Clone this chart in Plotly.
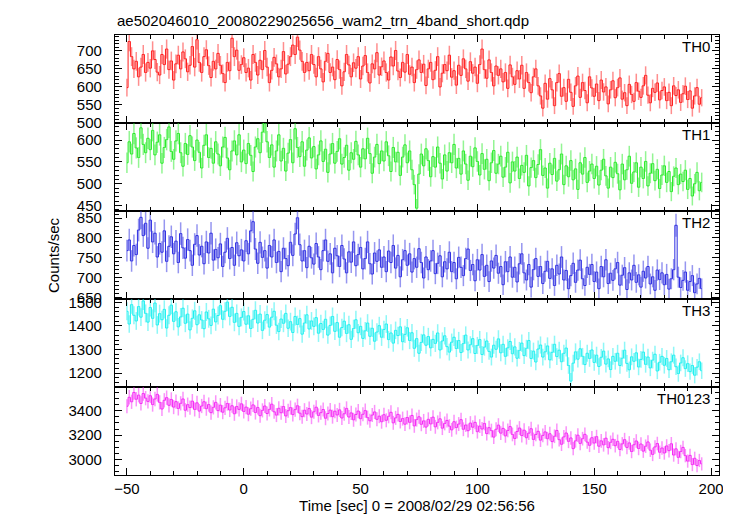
import numpy as np
import plotly.graph_objects as go

# time bins (s), 1-s bins from -50 to 196
t_first, t_last = -50, 196

th0 = [598, 726, 684, 650, 671, 628, 655, 690, 640, 668,
       652, 700, 676, 641, 633, 690, 662, 705, 648, 672,
       619, 664, 688, 650, 697, 678, 642, 660, 712, 655,
       731, 668, 640, 684, 703, 659, 626, 671, 650, 693,
       660, 637, 612, 668, 645, 735, 684, 702, 646, 662,
       681, 640, 652, 619, 690, 668, 633, 674, 648, 701,
       655, 612, 646, 682, 664, 628, 650, 698, 636, 663,
       684, 716, 690, 738, 702, 671, 640, 668, 645, 690,
       662, 628, 684, 650, 614, 671, 693, 640, 655, 620,
       676, 648, 603, 642, 690, 661, 628, 667, 652, 684,
       622, 658, 687, 640, 611, 664, 650, 695, 633, 656,
       672, 640, 619, 683, 658, 701, 644, 626, 668, 641,
       690, 635, 655, 612, 648, 675, 640, 663, 604, 650,
       668, 620, 646, 684, 600, 638, 662, 645, 688, 627,
       645, 605, 660, 632, 678, 650, 616, 670, 638, 655,
       610, 662, 705, 648, 624, 675, 640, 603, 658, 632,
       650, 614, 640, 596, 661, 628, 607, 645, 622, 660,
       596, 640, 612, 584, 628, 650, 603, 575, 541, 610,
       566, 623, 592, 548, 612, 637, 574, 598, 560, 621,
       585, 546, 603, 630, 571, 612, 590, 556, 628, 597,
       574, 608, 562, 619, 586, 600, 553, 592, 617, 570,
       598, 625, 566, 584, 548, 607, 579, 560, 612, 588,
       571, 603, 632, 577, 556, 596, 585, 611, 564, 590,
       600, 562, 585, 548, 603, 576, 592, 557, 581, 602,
       565, 589, 541, 575, 598, 552, 570]

th1 = [548, 596, 568, 615, 582, 560, 628, 590, 571, 604,
       578, 622, 566, 595, 612, 547, 583, 601, 630, 574,
       556, 598, 615, 571, 540, 592, 567, 610, 584, 553,
       600, 572, 536, 588, 612, 560, 581, 547, 596, 568,
       541, 584, 606, 559, 532, 575, 598, 566, 612, 550,
       577, 546, 592, 565, 528, 584, 603, 571, 618, 641,
       596, 560, 589, 538, 575, 612, 552, 581, 529, 570,
       601, 548, 626, 583, 562, 596, 540, 577, 605, 559,
       585, 534, 566, 598, 551, 579, 526, 568, 592, 547,
       574, 603, 545, 560, 588, 531, 571, 556, 597, 566,
       538, 580, 557, 604, 569, 524, 561, 590, 546, 575,
       552, 596, 564, 528, 583, 550, 572, 519, 561, 589,
       548, 575, 532, 498, 444, 522, 568, 541, 580, 553,
       516, 562, 538, 584, 547, 511, 566, 529, 571, 548,
       590, 536, 558, 522, 575, 545, 508, 563, 539, 582,
       551, 520, 569, 533, 556, 507, 548, 576, 524, 545,
       563, 515, 538, 572, 502, 550, 529, 561, 512, 542,
       526, 565, 495, 537, 553, 514, 544, 578, 519, 536,
       490, 547, 521, 558, 506, 532, 568, 498, 541, 516,
       553, 509, 534, 487, 548, 522, 560, 503, 529, 545,
       512, 540, 497, 531, 556, 518, 490, 538, 514, 549,
       523, 486, 545, 509, 532, 563, 501, 527, 548, 492,
       538, 512, 551, 495, 524, 546, 507, 533, 489, 520,
       541, 503, 528, 482, 517, 536, 498, 522, 505, 531,
       487, 512, 472, 500, 526, 484, 503]

th2 = [768, 795, 742, 781, 758, 820, 852, 806, 837, 774,
       845, 790, 812, 752, 786, 764, 818, 741, 779, 803,
       760, 792, 738, 811, 775, 749, 796, 768, 731, 784,
       806, 757, 779, 735, 790, 762, 812, 744, 771, 750,
       785, 728, 764, 799, 748, 776, 731, 788, 755, 770,
       742, 793, 760, 818, 841, 772, 736, 789, 751, 768,
       724, 781, 752, 795, 738, 766, 715, 774, 748, 730,
       789, 756, 810, 851, 783, 742, 768, 725, 779, 750,
       734, 786, 752, 720, 768, 795, 741, 760, 712, 774,
       755, 728, 781, 747, 712, 765, 739, 790, 730, 758,
       776, 722, 748, 790, 735, 709, 762, 741, 770, 726,
       752, 715, 767, 738, 781, 724, 756, 702, 745, 768,
       731, 760, 714, 748, 726, 773, 738, 699, 752, 720,
       742, 768, 710, 736, 755, 702, 740, 722, 764, 715,
       738, 697, 751, 726, 705, 748, 772, 718, 733, 692,
       745, 719, 758, 703, 731, 690, 742, 724, 756, 711,
       728, 682, 740, 715, 752, 701, 726, 689, 735, 760,
       712, 694, 733, 676, 720, 748, 703, 728, 685, 716,
       741, 698, 722, 680, 731, 709, 752, 694, 718, 672,
       705, 736, 688, 719, 744, 697, 680, 726, 708, 733,
       690, 714, 672, 728, 702, 745, 685, 711, 693, 722,
       738, 681, 706, 725, 670, 712, 694, 731, 688, 707,
       676, 716, 699, 728, 684, 702, 668, 719, 695, 712,
       682, 708, 671, 697, 720, 832, 701, 675, 693, 714,
       668, 690, 705, 662, 684, 698, 672]

th3 = [1462, 1408, 1490, 1445, 1421, 1482, 1437, 1506, 1453, 1416,
       1478, 1432, 1497, 1404, 1452, 1426, 1470, 1391, 1445, 1488,
       1419, 1460, 1396, 1438, 1475, 1411, 1450, 1383, 1432, 1464,
       1405, 1447, 1425, 1388, 1459, 1430, 1402, 1471, 1417, 1444,
       1486, 1428, 1462, 1501, 1440, 1479, 1415, 1453, 1398, 1436,
       1461, 1407, 1443, 1389, 1428, 1466, 1412, 1450, 1381, 1424,
       1448, 1395, 1437, 1462, 1403, 1376, 1429, 1411, 1453, 1390,
       1418, 1372, 1440, 1406, 1431, 1365, 1412, 1447, 1387, 1421,
       1398, 1435, 1369, 1410, 1385, 1428, 1361, 1402, 1440, 1377,
       1414, 1352, 1393, 1420, 1368, 1405, 1343, 1389, 1426, 1371,
       1398, 1347, 1379, 1412, 1356, 1390, 1335, 1374, 1401, 1352,
       1385, 1408, 1342, 1370, 1327, 1381, 1359, 1396, 1333, 1364,
       1392, 1338, 1371, 1305, 1346, 1284, 1330, 1362, 1318, 1355,
       1307, 1343, 1326, 1370, 1298, 1336, 1358, 1312, 1289, 1331,
       1352, 1304, 1338, 1287, 1325, 1361, 1298, 1320, 1346, 1283,
       1317, 1342, 1279, 1310, 1336, 1292, 1268, 1318, 1301, 1345,
       1286, 1322, 1271, 1307, 1334, 1282, 1311, 1263, 1296, 1327,
       1274, 1305, 1338, 1262, 1293, 1247, 1302, 1319, 1268, 1290,
       1315, 1256, 1288, 1322, 1270, 1297, 1248, 1284, 1306, 1232,
       1166, 1242, 1290, 1259, 1303, 1271, 1236, 1284, 1262, 1298,
       1245, 1276, 1228, 1267, 1293, 1238, 1260, 1215, 1271, 1250,
       1284, 1232, 1263, 1297, 1241, 1214, 1269, 1250, 1286, 1226,
       1258, 1289, 1237, 1268, 1222, 1255, 1280, 1209, 1246, 1271,
       1233, 1262, 1214, 1248, 1276, 1227, 1198, 1243, 1265, 1219,
       1240, 1206, 1232, 1191, 1225, 1248, 1210]

th0123 = [3438, 3512, 3475, 3552, 3496, 3530, 3461, 3543, 3505, 3478,
          3525, 3452, 3498, 3536, 3470, 3415, 3487, 3509, 3446, 3494,
          3431, 3476, 3420, 3462, 3498, 3405, 3451, 3427, 3480, 3412,
          3466, 3398, 3440, 3475, 3418, 3452, 3385, 3429, 3470, 3402,
          3447, 3389, 3425, 3461, 3407, 3442, 3376, 3436, 3412, 3458,
          3395, 3431, 3372, 3418, 3449, 3386, 3428, 3360, 3404, 3440,
          3378, 3412, 3455, 3392, 3365, 3421, 3384, 3436, 3358, 3401,
          3427, 3369, 3410, 3442, 3381, 3352, 3405, 3374, 3419, 3348,
          3392, 3430, 3362, 3385, 3411, 3339, 3378, 3406, 3352, 3397,
          3366, 3408, 3341, 3376, 3420, 3349, 3383, 3326, 3370, 3398,
          3335, 3372, 3402, 3344, 3318, 3365, 3391, 3330, 3356, 3310,
          3368, 3322, 3355, 3388, 3301, 3342, 3371, 3312, 3336, 3290,
          3345, 3305, 3362, 3276, 3328, 3351, 3289, 3317, 3266, 3330,
          3292, 3348, 3268, 3305, 3334, 3257, 3296, 3321, 3274, 3243,
          3310, 3262, 3291, 3327, 3248, 3283, 3236, 3299, 3265, 3305,
          3228, 3274, 3250, 3296, 3212, 3261, 3237, 3183, 3248, 3282,
          3216, 3255, 3193, 3238, 3270, 3205, 3172, 3229, 3258, 3196,
          3240, 3178, 3216, 3252, 3164, 3205, 3231, 3158, 3197, 3226,
          3170, 3211, 3146, 3190, 3238, 3162, 3124, 3185, 3217, 3148,
          3176, 3088, 3152, 3199, 3131, 3170, 3206, 3142, 3115, 3178,
          3134, 3187, 3108, 3152, 3119, 3174, 3096, 3140, 3165, 3112,
          3148, 3081, 3127, 3162, 3098, 3135, 3064, 3120, 3151, 3089,
          3126, 3067, 3108, 3143, 3075, 3040, 3102, 3130, 3058, 3093,
          3052, 3110, 3071, 3128, 3035, 3086, 3016, 3064, 3098, 3030,
          2985, 3032, 2956, 3008, 2948, 2990, 2962]

panel_names = ["TH0", "TH1", "TH2", "TH3", "TH0123"]
panel_data = [th0, th1, th2, th3, th0123]
panel_colors = ["rgb(255,30,30)", "rgb(40,235,40)", "rgb(45,45,225)", "rgb(30,240,240)", "rgb(245,40,245)"]
panel_err_colors = ["rgba(255,30,30,0.5)", "rgba(40,235,40,0.5)", "rgba(45,45,225,0.5)",
                    "rgba(30,240,240,0.5)", "rgba(245,40,245,0.5)"]
panel_ranges = [[499.9, 744], [437.6, 639], [646, 868], [1141, 1514], [2870, 3597]]
panel_dtick = [50, 50, 50, 100, 200]
panel_minor = [10, 10, 10, 20, 50]

title_text = "ae502046010_20080229025656_wam2_trn_4band_short.qdp"
xlabel = "Time [sec] 0 = 2008/02/29 02:56:56"
ylabel = "Counts/sec"

t = np.arange(t_first, t_last + 1)

FONT = "Liberation Sans, Arial, Helvetica, sans-serif"
fig = go.Figure()
n = len(panel_names)
W, H = 731, 516
ml, mr, mt, mb = 107, 20, 27, 40

layout = {}
for i in range(n):
    k = i + 1
    xa = "x" if k == 1 else f"x{k}"
    ya = "y" if k == 1 else f"y{k}"
    v = np.array(panel_data[i], dtype=float)
    m = min(len(v), len(t))
    fig.add_trace(go.Scatter(
        x=t[:m], y=v[:m], mode="lines",
        line=dict(color=panel_colors[i], width=1, shape="hvh"),
        error_y=dict(type="data", array=np.sqrt(v[:m]), color=panel_err_colors[i], thickness=1.5, width=0),
        xaxis=xa, yaxis=ya, showlegend=False, hoverinfo="skip"))
    top = 1 - i / n
    bot = 1 - (i + 1) / n
    layout["xaxis" if k == 1 else f"xaxis{k}"] = dict(
        domain=[0, 1], anchor=ya, range=[-55.1, 203.4],
        matches=None if k == 1 else "x",
        showticklabels=(k == n), ticks="inside", ticklen=7, tickwidth=1,
        tick0=0, dtick=50, minor=dict(dtick=10, ticks="inside", ticklen=4, tickcolor="black"),
        showline=True, mirror="ticks", linecolor="black", linewidth=1.3,
        showgrid=False, zeroline=False, tickcolor="black",
        tickfont=dict(family=FONT, size=15, color="black"),
        title=dict(text=xlabel, font=dict(family=FONT, size=15, color="black"), standoff=4) if k == n else None)
    layout["yaxis" if k == 1 else f"yaxis{k}"] = dict(
        domain=[bot, top], anchor=xa, range=panel_ranges[i],
        ticks="inside", ticklen=7, tickwidth=1, tick0=0, dtick=panel_dtick[i],
        minor=dict(dtick=panel_minor[i], ticks="inside", ticklen=4, tickcolor="black"),
        showline=True, mirror="ticks", linecolor="black", linewidth=1.3,
        showgrid=False, zeroline=False, tickcolor="black", ticklabelstandoff=9,
        tickfont=dict(family=FONT, size=15, color="black"))

annotations = []
for i in range(n):
    k = i + 1
    xa = "x" if k == 1 else f"x{k}"
    ya = "y" if k == 1 else f"y{k}"
    annotations.append(dict(text=panel_names[i], xref=f"{xa} domain", yref=f"{ya} domain",
                            x=1, y=1, xanchor="right", yanchor="top", xshift=-7, yshift=-1,
                            showarrow=False, font=dict(family=FONT, size=15, color="black")))
annotations.append(dict(text=title_text, xref="paper", yref="paper", x=0, y=1, yshift=4,
                        xanchor="left", yanchor="bottom", showarrow=False,
                        font=dict(family=FONT, size=15, color="black")))
annotations.append(dict(text=ylabel, xref="paper", yref="paper", x=0, xshift=-62, y=0.5,
                        textangle=-90, xanchor="center", yanchor="middle", showarrow=False,
                        font=dict(family=FONT, size=15, color="black")))

fig.update_layout(
    width=W, height=H, margin=dict(l=ml, r=mr, t=mt, b=mb),
    paper_bgcolor="white", plot_bgcolor="white",
    annotations=annotations, **layout)

fig.write_html("out.html")
